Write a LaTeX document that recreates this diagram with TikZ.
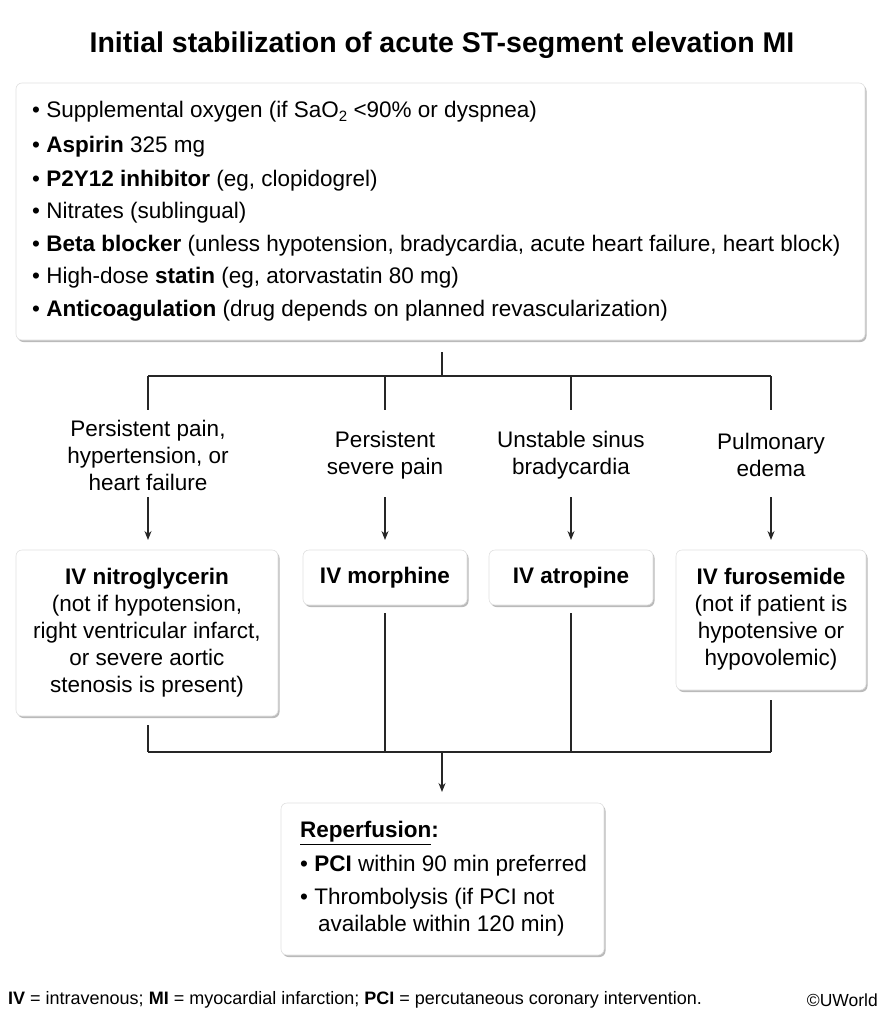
\documentclass[tikz,border=0pt]{standalone}
\usepackage{fontspec}
\setmainfont{Liberation Sans}
\usetikzlibrary{shadows,arrows.meta}
\newcommand{\mysub}[1]{\raisebox{-0.35ex}{\fontsize{15}{15}\selectfont #1}}
\begin{document}
\begin{tikzpicture}[x=1pt,y=-1pt,
 box/.style={fill=white,draw=black!12,line width=0.6pt,rounded corners=6pt,drop shadow={shadow xshift=1.5pt,shadow yshift=-2pt,fill=black!45,opacity=0.6}},
 t/.style={font=\fontsize{22.5}{27}\selectfont,inner sep=0pt},
 lbl/.style={t,align=center},
 ln/.style={line width=1.2pt,draw=black!85},
 arr/.style={ln,-{Stealth[length=9pt,width=7pt]}}]
\useasboundingbox (0,0) rectangle (884,1014);
\node[font=\fontsize{28.5}{32}\selectfont\bfseries] (title) at (442,45) {Initial stabilization of acute ST-segment elevation MI};
% top box
\path[box] (16,83) rectangle (865,340);
\foreach \y/\s in {112/{• Supplemental oxygen (if SaO\mysub{2} <90\% or dyspnea)},
 147/{• \textbf{Aspirin} 325 mg},
 181/{• \textbf{P2Y12 inhibitor} (eg, clopidogrel)},
 213/{• Nitrates (sublingual)},
 246/{• \textbf{Beta blocker} (unless hypotension, bradycardia, acute heart failure, heart block)},
 278/{• High-dose \textbf{statin} (eg, atorvastatin 80 mg)},
 311/{• \textbf{Anticoagulation} (drug depends on planned revascularization)}}
 \node[t,anchor=west] at (32,\y) {\s};
% branches
\coordinate (b0) at (442,352);
\coordinate (bm) at (442,376);
\coordinate (b1) at (148,376);
\coordinate (b2) at (385,376);
\coordinate (b3) at (571,376);
\coordinate (b4) at (771,376);
\draw[ln] (b0) -- (bm) (b1) -- (b4);
\foreach \i in {1,...,4} \draw[ln] (b\i) -- ++(0,34);
\node[lbl] (l1) at (148,455) {Persistent pain,\\hypertension, or\\heart failure};
\node[lbl] (l2) at (385,455) {Persistent\\severe pain};
\node[lbl] (l3) at (571,455) {Unstable sinus\\bradycardia};
\node[lbl] (l4) at (771,455) {Pulmonary\\edema};
\foreach \x/\n in {148/1,385/2,571/3,771/4}{
 \coordinate (a\n) at (\x,497); \coordinate (e\n) at (\x,540);
 \draw[arr] (a\n) -- (e\n);}
% drug boxes
\path[box] (16,550) rectangle (278,716);
\node[lbl] (d1) at (147,633) {\textbf{IV nitroglycerin}\\(not if hypotension,\\right ventricular infarct,\\or severe aortic\\stenosis is present)};
\path[box] (303,550) rectangle (467,605);
\node[lbl] (d2) at (385,578) {\textbf{IV morphine}};
\path[box] (489,550) rectangle (653,605);
\node[lbl] (d3) at (571,578) {\textbf{IV atropine}};
\path[box] (676,550) rectangle (866,690);
\node[lbl] (d4) at (771,619) {\textbf{IV furosemide}\\(not if patient is\\hypotensive or\\hypovolemic)};
\coordinate (c1) at (148,725); \coordinate (c2) at (385,613);
\coordinate (c3) at (571,613); \coordinate (c4) at (771,700);
\coordinate (j1) at (148,752); \coordinate (j2) at (385,752);
\coordinate (j3) at (571,752); \coordinate (j4) at (771,752);
\coordinate (jm) at (442,752); \coordinate (rt) at (442,792);
\draw[ln] (c1) -- (j1) (c2) -- (j2) (c3) -- (j3) (c4) -- (j4) (j1) -- (j4);
\draw[arr] (jm) -- (rt);
% reperfusion
\path[box] (281,803) rectangle (604,955);
\node[t,anchor=west] (r0) at (300,833) {\textbf{\underline{Reperfusion}:}};
\node[t,anchor=west] (r1) at (300,866) {• \textbf{PCI} within 90 min preferred};
\node[t,anchor=west] (r2) at (300,899) {• Thrombolysis (if PCI not};
\node[t,anchor=west] (r3) at (318,926) {available within 120 min)};
% footer
\node[anchor=west,inner sep=0pt,font=\fontsize{18}{20}\selectfont] (foot) at (8,1000) {\textbf{IV} = intravenous; \textbf{MI} = myocardial infarction; \textbf{PCI} = percutaneous coronary intervention.};
\node[anchor=east,inner sep=0pt,font=\fontsize{17.5}{20}\selectfont] (cr) at (878,1000) {\textcopyright UWorld};
\end{tikzpicture}
\end{document}
